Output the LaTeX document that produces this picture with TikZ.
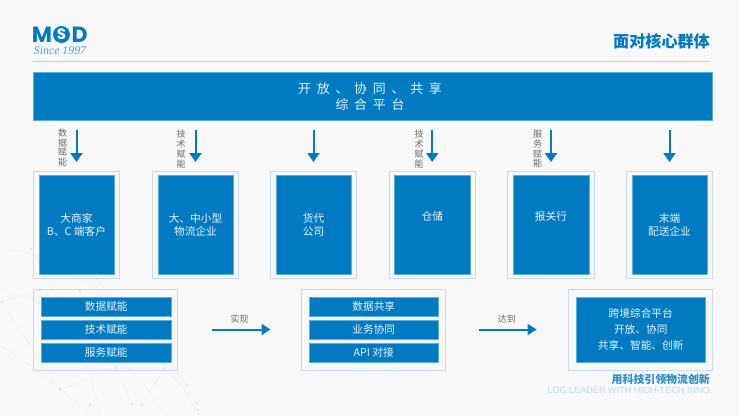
\documentclass[tikz,border=0pt]{standalone}
\usepackage{fontspec}
\setmainfont{Noto Sans CJK SC}
\newfontfamily\widefont[WordSpace=2]{Noto Sans CJK SC}
\newfontfamily\logofont{Poppins}
\newfontfamily\sincefont{Liberation Serif}
\newfontfamily\footfont{Liberation Sans}
\usetikzlibrary{arrows.meta}
\definecolor{msdblue}{HTML}{007AC1}
\definecolor{msdedge}{HTML}{5AAEE0}
\definecolor{msdframe}{HTML}{C6DCEE}
\definecolor{msdpage}{HTML}{F8F8F8}
\definecolor{msdgray}{HTML}{6A6A6A}
\definecolor{msdweb}{HTML}{EEF0F1}
\begin{document}
\begin{tikzpicture}[x=1pt,y=-1pt,
	frame/.style={draw=msdframe,line width=1pt,inner sep=0pt},
	panel/.style={draw=msdedge,line width=0.5pt,fill=msdblue,text=white!92!msdblue,inner sep=0pt,align=center,font=\fontsize{10.7}{13}\selectfont},
	feed/.style={-{Triangle[length=9pt,width=12pt]},msdblue,line width=2pt},
	result/.style={-{Triangle[length=9pt,width=11pt]},msdblue,line width=2pt},
	side/.style={text=msdgray,align=center,inner sep=0pt,font=\fontsize{9}{9.8}\selectfont},
	web/.style={msdweb,line width=0.5pt}]
	\fill[msdpage] (0,0) rectangle (739,416);
	\useasboundingbox (0,0) rectangle (739,416);
	% background web
	\draw[web] (0,249) .. controls (60,250) and (130,300) .. (200,416);
	\draw[web] (0,290) .. controls (50,300) and (120,340) .. (165,416);
	\draw[web] (31,249) .. controls (60,300) and (90,360) .. (100,416);
	\draw[web] (96,278) .. controls (130,320) and (165,360) .. (187,385);
	\draw[web] (0,345) .. controls (40,370) and (70,395) .. (90,416);
	\draw[web] (40,290) -- (2,302) -- (60,390) -- (116,368) -- (164,369) -- (197,403);
	\draw[web] (80,291) -- (116,368) -- (132,404);
	\draw[web] (163,318) -- (164,369) -- (142,405);
	\foreach \px/\py in {31/249,96/278,40/290,80/291,2/302,116/368,164/369,163/318,187/385,197/403,132/404,142/405,90/405,60/390,198/410}
		\fill[msdweb!92!gray] (\px,\py) circle (1.6);
	% logo
	\node[text=msdblue,inner sep=0pt,font=\logofont\bfseries\fontsize{22}{22}\selectfont] (logoM) at (42,34.5) {M};
	\node[text=msdblue,inner sep=0pt,font=\logofont\bfseries\fontsize{22}{22}\selectfont] (logoD) at (79.5,34.5) {D};
	\node[circle,fill=msdblue,minimum size=17pt,inner sep=0pt,text=white,font=\logofont\bfseries\fontsize{15}{15}\selectfont] (logoS) at (61.5,34.5) {S};
	\node[text=msdblue!70,inner sep=0pt,font=\sincefont\itshape\fontsize{11.8}{11.8}\selectfont] (since) at (60,51) {Since 1997};
	% title
	\node[anchor=east,text=msdblue,inner sep=0pt,font=\bfseries\fontsize{16.1}{16}\selectfont] (title) at (710,41) {面对核心群体};
	\draw[draw=black!20,line width=0.8pt] (33,61) coordinate (ruleL) -- (710,61) coordinate (ruleR);
	% platform
	\node[panel,minimum width=679pt,minimum height=48.5pt] (platform) at (373,96.25) {};
	\node[text=white!92!msdblue,inner sep=0pt,align=center,font=\widefont\fontsize{12.9}{15.4}\selectfont] (platformtext) at (370,96.5) {开 放 、 协 同 、 共 享\\综 合 平 台};
	% six groups
	\node[frame,minimum width=86pt,minimum height=106.5pt] (o1) at (76.5,224.75) {};
	\node[frame,minimum width=86pt,minimum height=106.5pt] (o2) at (195.5,224.75) {};
	\node[frame,minimum width=86pt,minimum height=106.5pt] (o3) at (313.5,224.75) {};
	\node[frame,minimum width=86pt,minimum height=106.5pt] (o4) at (432.25,224.75) {};
	\node[frame,minimum width=86.5pt,minimum height=106.5pt] (o5) at (551,224.75) {};
	\node[frame,minimum width=86pt,minimum height=106.5pt] (o6) at (669.5,224.75) {};
	\node[panel,minimum width=75.5pt,minimum height=99pt] (g1) at (o1) {大商家\\B、C 端客户};
	\node[panel,minimum width=75.5pt,minimum height=99pt] (g2) at (o2) {大、中小型\\物流企业};
	\node[panel,minimum width=75.5pt,minimum height=99pt] (g3) at (o3) {货代\\公司};
	\node[panel,minimum width=75.5pt,minimum height=99pt] (g4) at (o4) {仓储\\\strut};
	\node[panel,minimum width=75.5pt,minimum height=99pt] (g5) at (o5) {报关行\\\strut};
	\node[panel,minimum width=75.5pt,minimum height=99pt] (g6) at (o6) {末端\\配送企业};
	% feeds from the platform
	\draw[feed,shorten <=9.5pt,shorten >=9pt] (platform.south -| o1) -- (o1.north);
	\draw[feed,shorten <=9.5pt,shorten >=9pt] (platform.south -| o2) -- (o2.north);
	\draw[feed,shorten <=9.5pt,shorten >=9pt] (platform.south -| o3) -- (o3.north);
	\draw[feed,shorten <=9.5pt,shorten >=9pt] (platform.south -| o4) -- (o4.north);
	\draw[feed,shorten <=9.5pt,shorten >=9pt] (platform.south -| o5) -- (o5.north);
	\draw[feed,shorten <=9.5pt,shorten >=9pt] (platform.south -| o6) -- (o6.north);
	\node[side] (s1) at (62.5,147.5) {数\\据\\赋\\能};
	\node[side] (s2) at (181,149) {技\\术\\赋\\能};
	\node[side] (s4) at (419,149) {技\\术\\赋\\能};
	\node[side] (s5) at (537.5,149) {服\\务\\赋\\能};
	% bottom row
	\node[frame,minimum width=144pt,minimum height=81pt] (left) at (105.5,330) {};
	\node[panel,minimum width=129.5pt,minimum height=19pt] (l1) at (106.25,306.5) {数据赋能};
	\node[panel,minimum width=129.5pt,minimum height=19pt] (l2) at (106.25,329.5) {技术赋能};
	\node[panel,minimum width=129.5pt,minimum height=19pt] (l3) at (106.25,352.5) {服务赋能};
	\node[frame,minimum width=144pt,minimum height=81pt] (mid) at (373.5,330) {};
	\node[panel,minimum width=129.5pt,minimum height=19pt] (m1) at (373.75,306.5) {数据共享};
	\node[panel,minimum width=129.5pt,minimum height=19pt] (m2) at (373.75,329.5) {业务协同};
	\node[panel,minimum width=129.5pt,minimum height=19pt] (m3) at (373.75,352.5) {API 对接};
	\node[frame,minimum width=144.5pt,minimum height=81pt] (right) at (640.25,330) {};
	\node[panel,minimum width=129.5pt,minimum height=65pt,font=\fontsize{10.7}{15.8}\selectfont] (r1) at (640.75,329.5) {跨境综合平台\\开放、协同\\共享、智能、创新};
	% results
	\draw[result,shorten <=33.5pt,shorten >=30.5pt] (left.east |- l2) -- (mid.west |- l2) node[midway,above=5pt,text=msdgray,inner sep=0pt,font=\fontsize{9}{10}\selectfont] (t1) {实现};
	\draw[result,shorten <=32.5pt,shorten >=31pt] (mid.east |- m2) -- (right.west |- m2) node[midway,above=5pt,text=msdgray,inner sep=0pt,font=\fontsize{9}{10}\selectfont] (t2) {达到};
	% footer
	\node[anchor=east,text=msdblue!85,inner sep=0pt,font=\bfseries\fontsize{10.9}{11}\selectfont] (slogan) at (710,379) {用科技引领物流创新};
	\node[anchor=east,text=msdblue!25,inner sep=0pt,font=\footfont\fontsize{9.1}{10}\selectfont] (english) at (712.5,390.5) {LOG LEADER WITH HIGH-TECH INNO.};
\end{tikzpicture}
\end{document}
